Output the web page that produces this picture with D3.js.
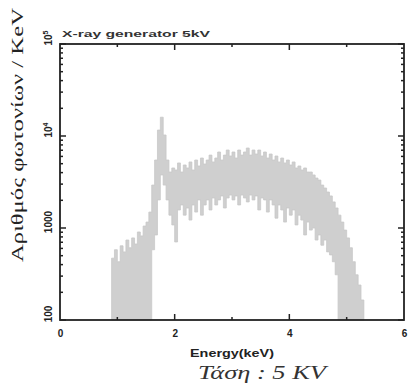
<!DOCTYPE html>
<html>
<head>
<meta charset="utf-8">
<script src="https://cdn.jsdelivr.net/npm/d3@7"></script>
<style>
  body { margin: 0; background: #fff; }
  svg { display: block; }
  .tick text { font-family: "Liberation Sans", Arial, sans-serif; font-weight: bold; font-size: 10px; fill: #222; }
</style>
</head>
<body>
<div id="chart"></div>
<script>
"use strict";

// energy bins (keV), left edge of each bin
var energy = [0.90, 0.95, 1.00, 1.05, 1.10, 1.15, 1.20, 1.25, 1.30, 1.35,
              1.40, 1.45, 1.50, 1.55, 1.60, 1.65, 1.70, 1.75, 1.80, 1.85,
              1.90, 1.95, 2.00, 2.05, 2.10, 2.15, 2.20, 2.25, 2.30, 2.35,
              2.40, 2.45, 2.50, 2.55, 2.60, 2.65, 2.70, 2.75, 2.80, 2.85,
              2.90, 2.95, 3.00, 3.05, 3.10, 3.15, 3.20, 3.25, 3.30, 3.35,
              3.40, 3.45, 3.50, 3.55, 3.60, 3.65, 3.70, 3.75, 3.80, 3.85,
              3.90, 3.95, 4.00, 4.05, 4.10, 4.15, 4.20, 4.25, 4.30, 4.35,
              4.40, 4.45, 4.50, 4.55, 4.60, 4.65, 4.70, 4.75, 4.80, 4.85,
              4.90, 4.95, 5.00, 5.05, 5.10, 5.15, 5.20, 5.25];

// upper edge of the counts band (photons / keV)
var countsHigh = [470, 580, 430, 640, 550, 740, 610, 780, 670, 905,
                  820, 1050, 1160, 1490, 2930, 5480, 11600, 16000, 10250, 5480,
                  4060, 4490, 4270, 5090, 4060, 4840, 4490, 5220, 4270, 5480,
                  4720, 5760, 4960, 5480, 6200, 5220, 5760, 6700, 5480, 6200,
                  7040, 6060, 6700, 5760, 7040, 6200, 6700, 7400, 6200, 7040,
                  6370, 7040, 6060, 6700, 5760, 6370, 5480, 6060, 5220, 5760,
                  5090, 5480, 4840, 5220, 4490, 4720, 4270, 4490, 4060, 4060,
                  3770, 3490, 3320, 2930, 2720, 2460, 2230, 1920, 1650, 1380,
                  1160, 950, 780, 610, 430, 310, 240, 165];

// lower edge of the counts band
var countsLow = [100, 100, 100, 100, 100, 100, 100, 100, 100, 100,
                 100, 100, 100, 100, 580, 840, 2020, 3770, 2930, 2020,
                 1380, 1080, 705, 1570, 1780, 1380, 1650, 1220, 1780, 1490,
                 2020, 1380, 1780, 2020, 1570, 2120, 1780, 2020, 2230, 1650,
                 2120, 2280, 2020, 2230, 1780, 2280, 2120, 1920, 2280, 2020,
                 2230, 1570, 2120, 2020, 1490, 2020, 1780, 1280, 1780, 1570,
                 1160, 1650, 1380, 1570, 1080, 1380, 1220, 840, 1160, 950,
                 1000, 740, 840, 650, 740, 550, 510, 430, 310, 100,
                 100, 100, 100, 100, 100, 100, 100, 100];

var binWidth = 0.05;

var xTickLabels = [0, 2, 4, 6];
var xTicks = [1, 2, 3, 4, 5];
var yDecades = [100, 1000, 1e4, 1e5];

var title = "X-ray generator 5kV";
var xTitle = "Energy(keV)";
var yTitle = "Αριθμός φωτονίων / KeV";
var caption = "Τάση : 5 KV";

var width = 409, height = 385;
var margin = { left: 60, right: 5, top: 44, bottom: 65 };

var svg = d3.select("#chart").append("svg")
    .attr("width", width)
    .attr("height", height);

var xScale = d3.scaleLinear()
    .domain([0, 6])
    .range([margin.left, width - margin.right]);

var yScale = d3.scaleLog()
    .domain([100, 1e5])
    .range([height - margin.bottom, margin.top]);

// band data: step shape, each bin drawn over its width
var bins = energy.map(function(e, i) {
    return { e: e, hi: countsHigh[i], lo: countsLow[i] };
});
var last = bins[bins.length - 1];
bins.push({ e: last.e + binWidth, hi: last.hi, lo: last.lo });

var area = d3.area()
    .curve(d3.curveStepAfter)
    .x(function(d) { return xScale(d.e); })
    .y0(function(d) { return yScale(d.lo); })
    .y1(function(d) { return yScale(d.hi); });

svg.append("path")
    .datum(bins)
    .attr("d", area)
    .attr("fill", "#cfcfcf")
    .attr("stroke", "#c8c8c8")
    .attr("stroke-width", 0.8);

// minor log ticks
var yMinor = [];
[100, 1000, 1e4].forEach(function(d) {
    for (var k = 2; k <= 9; k++) yMinor.push(d * k);
});

var plotL = xScale(0), plotR = xScale(6), plotT = yScale(1e5), plotB = yScale(100);

// left and right axis ticks (pointing inwards)
function yTicksAt(xPos, dir) {
    var g = svg.append("g").attr("stroke", "#222");
    g.selectAll(".maj").data(yDecades).enter().append("line")
        .attr("x1", xPos).attr("x2", xPos + dir * 6)
        .attr("y1", function(d) { return yScale(d); })
        .attr("y2", function(d) { return yScale(d); })
        .attr("stroke-width", 1.5);
    g.selectAll(".min").data(yMinor).enter().append("line")
        .attr("x1", xPos).attr("x2", xPos + dir * 3)
        .attr("y1", function(d) { return yScale(d); })
        .attr("y2", function(d) { return yScale(d); })
        .attr("stroke-width", 1.5);
}
yTicksAt(plotL, 1);
yTicksAt(plotR, -1);

// top and bottom ticks
function xTicksAt(yPos, dir) {
    svg.append("g").attr("stroke", "#222")
        .selectAll("line").data(xTicks).enter().append("line")
        .attr("x1", function(d) { return xScale(d); })
        .attr("x2", function(d) { return xScale(d); })
        .attr("y1", yPos)
        .attr("y2", function(d) { return yPos + dir * (d % 2 === 0 ? 6 : 3); })
        .attr("stroke-width", 1.5);
}
xTicksAt(plotB, -1);
xTicksAt(plotT, 1);

// frame
svg.append("rect")
    .attr("x", plotL).attr("y", plotT)
    .attr("width", plotR - plotL).attr("height", plotB - plotT)
    .attr("fill", "none")
    .attr("stroke", "#222")
    .attr("stroke-width", 1.8);

// x tick labels
var xAxis = svg.append("g")
    .attr("transform", "translate(0," + plotB + ")")
    .call(d3.axisBottom(xScale).tickValues(xTickLabels).tickSize(0).tickPadding(10).tickFormat(d3.format("d")));
xAxis.select(".domain").remove();

// y tick labels, rotated
var yLab = svg.append("g");
yDecades.forEach(function(d) {
    var t = yLab.append("text")
        .attr("transform", "translate(" + (plotL - 8) + "," + (yScale(d) - 6) + ") rotate(-90)")
        .attr("text-anchor", "middle")
        .attr("font-family", "Liberation Sans, Arial, sans-serif")
        .attr("font-weight", "bold")
        .attr("font-size", 10)
        .attr("fill", "#222");
    if (d <= 1000) {
        t.text(d);
    } else {
        t.append("tspan").text("10");
        t.append("tspan").attr("dy", -4).attr("font-size", 7).text(Math.round(Math.log10(d)));
    }
});

// title
svg.append("text")
    .attr("x", plotL + 2)
    .attr("y", plotT - 7)
    .attr("font-family", "Liberation Sans, Arial, sans-serif")
    .attr("font-weight", "bold")
    .attr("font-size", 9)
    .attr("textLength", 148)
    .attr("lengthAdjust", "spacingAndGlyphs")
    .attr("fill", "#333")
    .text(title);

// x title
svg.append("text")
    .attr("x", 232)
    .attr("y", 357)
    .attr("text-anchor", "middle")
    .attr("font-family", "Liberation Sans, Arial, sans-serif")
    .attr("font-weight", "bold")
    .attr("font-size", 11)
    .attr("textLength", 84)
    .attr("lengthAdjust", "spacingAndGlyphs")
    .attr("fill", "#222")
    .text(xTitle);

// caption below
svg.append("text")
    .attr("x", 262)
    .attr("y", 379)
    .attr("text-anchor", "middle")
    .attr("font-family", "Liberation Serif, Times New Roman, serif")
    .attr("font-style", "italic")
    .attr("font-size", 19)
    .attr("textLength", 128)
    .attr("lengthAdjust", "spacingAndGlyphs")
    .attr("fill", "#333")
    .text(caption);

// y title
svg.append("text")
    .attr("transform", "translate(23,135) rotate(-90)")
    .attr("text-anchor", "middle")
    .attr("font-family", "Liberation Serif, Times New Roman, serif")
    .attr("font-size", 17)
    .attr("textLength", 254)
    .attr("lengthAdjust", "spacingAndGlyphs")
    .attr("fill", "#222")
    .text(yTitle);
</script>
</body>
</html>
